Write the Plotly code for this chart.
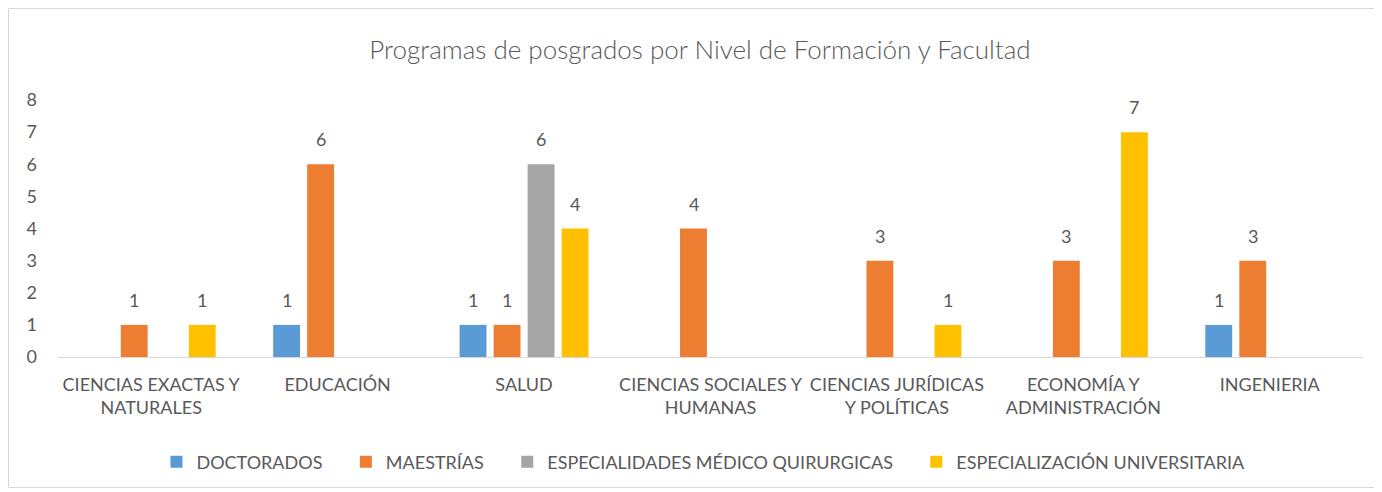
import plotly.graph_objects as go

categories = [
    "CIENCIAS EXACTAS Y<br>NATURALES",
    "EDUCACIÓN",
    "SALUD",
    "CIENCIAS SOCIALES Y<br>HUMANAS",
    "CIENCIAS JURÍDICAS<br>Y POLÍTICAS",
    "ECONOMÍA Y<br>ADMINISTRACIÓN",
    "INGENIERIA",
]
doctorados = [None, 1, 1, None, None, None, 1]
maestrias = [1, 6, 1, 4, 3, 3, 3]
esp_medico = [None, None, 6, None, None, None, None]
esp_univ = [1, None, 4, None, 1, 7, None]

series = [
    ("DOCTORADOS", doctorados, "#5B9BD5"),
    ("MAESTRÍAS", maestrias, "#ED7D31"),
    ("ESPECIALIDADES MÉDICO QUIRURGICAS", esp_medico, "#A5A5A5"),
    ("ESPECIALIZACIÓN UNIVERSITARIA", esp_univ, "#FFC000"),
]
slot_shift = [-51, -17, 17, 51]

FONT = "Lato"
TXT = "#595959"
# page body has an 8px margin; figure coordinates below are relative to it
W, H = 1374, 484
ML, MR, MT, MB = 50, 19, 92, 135
PAD = "\u00a0" * 4

fig = go.Figure()
annotations = []
for (name, vals, color), dx in zip(series, slot_shift):
    fig.add_trace(go.Bar(
        x=categories, y=vals, name=name + PAD,
        marker=dict(color=color, line=dict(width=0)),
    ))
    for c, v in zip(categories, vals):
        if v is None:
            continue
        annotations.append(dict(
            x=c, y=v, xref="x", yref="y", text=str(v), showarrow=False,
            xshift=dx, yshift=25, yanchor="middle", xanchor="center",
            font=dict(family=FONT, size=18, color=TXT),
        ))

pw = W - ML - MR
ph = H - MT - MB
fig.add_shape(type="rect", xref="paper", yref="paper",
              x0=(0.5 - ML) / pw, x1=(1368.5 - ML) / pw,
              y0=(H - MB - 479.5) / ph, y1=(H - MB - 0.5) / ph,
              line=dict(color="#D9D9D9", width=1), fillcolor="rgba(0,0,0,0)", layer="below")

fig.update_layout(
    width=W, height=H,
    margin=dict(l=ML, r=MR, t=MT, b=MB),
    paper_bgcolor="white", plot_bgcolor="white",
    barmode="group", bargap=0.27, bargroupgap=0.21,
    title=dict(text="Programas de posgrados por Nivel de Formación y Facultad",
               x=692 / W, xref="container", xanchor="center",
               y=1 - 42 / H, yref="container", yanchor="middle",
               font=dict(family=FONT, size=26, color=TXT, weight=300)),
    font=dict(family=FONT, size=18, color=TXT),
    showlegend=True,
    annotations=annotations,
    legend=dict(orientation="h", x=704 / W, xref="container", xanchor="center",
                y=1 - 454 / H, yref="container", yanchor="middle",
                font=dict(family=FONT, size=18, color=TXT),
                itemwidth=30),
    xaxis=dict(showline=True, linecolor="#D9D9D9", linewidth=1,
               showgrid=False, ticks="", ticklabelstandoff=11,
               tickfont=dict(family=FONT, size=18, color=TXT),
               fixedrange=True),
    yaxis=dict(range=[0, 8], dtick=1, showgrid=False, zeroline=False, showline=False,
               ticks="", ticklabelstandoff=20,
               tickfont=dict(family=FONT, size=18, color=TXT), fixedrange=True),
)

fig.write_html("out.html")
